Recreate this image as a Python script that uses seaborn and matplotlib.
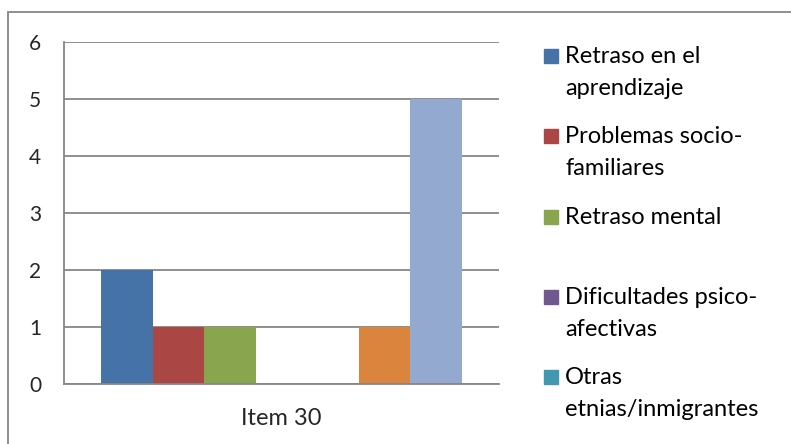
import pandas as pd
import matplotlib
matplotlib.use("Agg")
import matplotlib.pyplot as plt
from matplotlib.patches import Rectangle
import seaborn as sns

# data
categories = ["Item 30"]
series_names = [
    "Retraso en el\naprendizaje",
    "Problemas socio-\nfamiliares",
    "Retraso mental",
    "Dificultades psico-\nafectivas",
    "Otras\netnias/inmigrantes",
    "Serie 6",
    "Serie 7",
]
series_values = [2, 1, 1, 0, 0, 1, 5]
colors = ["#4572A7", "#AA4643", "#89A54E", "#71588F", "#4198AF", "#DB843D", "#93A9CF"]
shown_in_legend = 5  # legend in the reference is cut after the 5th entry
yticks = [0, 1, 2, 3, 4, 5, 6]

df = pd.DataFrame({
    "item": categories * len(series_names),
    "serie": series_names,
    "value": series_values,
})

sns.set_style("white")
plt.rcParams["font.family"] = ["Lato", "DejaVu Sans"]

W, H = 791, 444
fig = plt.figure(figsize=(W / 100, H / 100), dpi=100)

def fx(x):
    return x / W

def fy(y):
    return 1 - y / H

# plot area in pixels: left 64, right 499, top 42, bottom 384
ax = fig.add_axes([fx(64), fy(384), fx(499) - fx(64), fy(42) - fy(384)])

sns.barplot(data=df, x="item", y="value", hue="serie", palette=colors,
            hue_order=series_names, width=0.83, saturation=1, linewidth=0,
            legend=False, ax=ax)

grey = "#868686"
ax.set_ylim(0, 6)
ax.set_xlim(-0.5, 0.5)
ax.set_yticks(yticks)
ax.yaxis.grid(True, color=grey, linewidth=1.3)
ax.set_axisbelow(True)
for side in ["top", "right"]:
    ax.spines[side].set_visible(False)
for side in ["left", "bottom"]:
    ax.spines[side].set_color(grey)
    ax.spines[side].set_linewidth(1.3)

ax.set_xlabel("")
ax.set_ylabel("")
ax.tick_params(axis="y", length=6.5, width=1.3, color=grey, pad=10, labelsize=15)
ax.tick_params(axis="x", which="major", length=0, pad=17, labelsize=17)
ax.set_xticks([-0.5, 0.5], minor=True)
ax.tick_params(axis="x", which="minor", length=6, width=1.3, color=grey, direction="out")

# legend, drawn entry by entry so the square sits on the first text line
row_top = 49
row_step = 80.3
line_step = 32
for i in range(shown_in_legend):
    top = row_top + i * row_step
    fig.patches.append(Rectangle((fx(544), fy(top + 14)), fx(14), fy(0) - fy(14),
                                 transform=fig.transFigure, color=colors[i]))
    for j, line in enumerate(series_names[i].split("\n")):
        fig.text(fx(565), fy(top + 14 + j * line_step), line, fontsize=17,
                 va="baseline", ha="left", color="black")

# outer chart border (cut at right and bottom in the reference)
fig.patches.append(Rectangle((fx(8), -0.1), 1.2, fy(12) + 0.1, transform=fig.transFigure,
                             fill=False, edgecolor=grey, linewidth=1.3))

fig.savefig("out.png", dpi=100)
